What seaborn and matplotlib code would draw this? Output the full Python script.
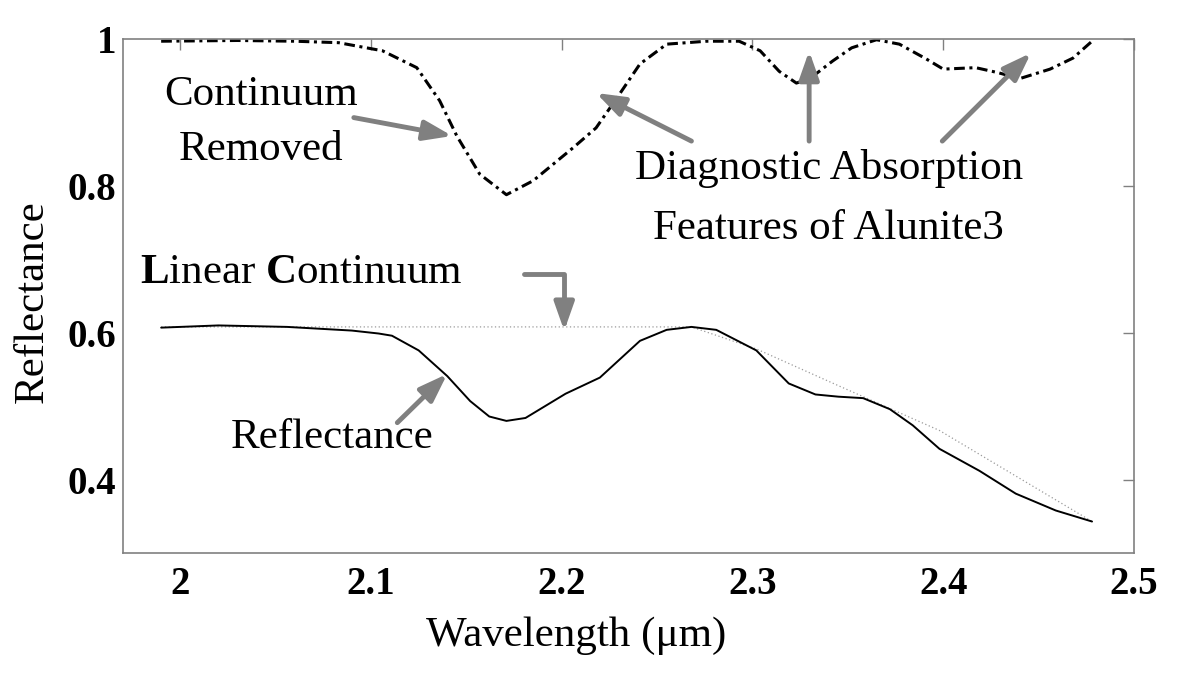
import matplotlib
matplotlib.use("Agg")
import matplotlib.pyplot as plt
import seaborn as sns
import pandas as pd

# reflectance spectrum of alunite
wl_refl = [1.99, 2.02, 2.056, 2.09, 2.104, 2.111, 2.125, 2.14, 2.152, 2.162, 2.171,
           2.181, 2.202, 2.22, 2.241, 2.255, 2.268, 2.281, 2.302, 2.319, 2.333,
           2.345, 2.358, 2.372, 2.384, 2.398, 2.419, 2.438, 2.459, 2.478]
refl = [0.607, 0.610, 0.608, 0.603, 0.599, 0.596, 0.576, 0.541, 0.507, 0.486, 0.480,
        0.484, 0.517, 0.539, 0.589, 0.604, 0.608, 0.604, 0.576, 0.531, 0.516,
        0.513, 0.511, 0.496, 0.474, 0.442, 0.412, 0.381, 0.358, 0.343]

# continuum removed spectrum
wl_cr = [1.99, 2.03, 2.06, 2.083, 2.106, 2.124, 2.136, 2.145, 2.157, 2.171, 2.185,
         2.206, 2.218, 2.229, 2.241, 2.255, 2.276, 2.293, 2.304, 2.314, 2.323, 2.33,
         2.342, 2.352, 2.365, 2.377, 2.391, 2.4, 2.417, 2.429, 2.44, 2.456, 2.468, 2.478]
cr = [0.997, 0.998, 0.997, 0.995, 0.984, 0.961, 0.916, 0.868, 0.816, 0.788, 0.807,
      0.852, 0.879, 0.920, 0.966, 0.993, 0.997, 0.997, 0.984, 0.956, 0.940, 0.946,
      0.970, 0.988, 0.999, 0.993, 0.973, 0.959, 0.961, 0.954, 0.946, 0.959, 0.974, 0.997]

# linear continuum (dotted)
wl_cont = [1.99, 2.268, 2.302, 2.345, 2.398, 2.478]
cont = [0.608, 0.608, 0.578, 0.528, 0.467, 0.343]

xticks = [2, 2.1, 2.2, 2.3, 2.4, 2.5]
xtick_labels = ["2", "2.1", "2.2", "2.3", "2.4", "2.5"]
yticks = [0.4, 0.6, 0.8, 1.0]
ytick_labels = ["0.4", "0.6", "0.8", "1"]

sns.set_theme(style="white")
plt.rcParams['font.family'] = ['Liberation Serif', 'DejaVu Serif']
plt.rcParams['mathtext.fontset'] = 'custom'
plt.rcParams['mathtext.rm'] = 'Liberation Serif'
plt.rcParams['mathtext.bf'] = 'Liberation Serif:bold'
plt.rcParams['text.color'] = 'black'
plt.rcParams['axes.labelcolor'] = 'black'

GREY = '#808080'

fig = plt.figure(figsize=(12, 6.82), dpi=100)
ax = fig.add_axes([0.1025, 0.189, 0.8425, 0.7538])

df_refl = pd.DataFrame({'wl': wl_refl, 'r': refl})
df_cr = pd.DataFrame({'wl': wl_cr, 'r': cr})
df_cont = pd.DataFrame({'wl': wl_cont, 'r': cont})

sns.lineplot(data=df_cont, x='wl', y='r', ax=ax, color='#9a9a9a', lw=0.9,
             linestyle=(0, (1, 2)), sort=False, estimator=None)
sns.lineplot(data=df_refl, x='wl', y='r', ax=ax, color='black', lw=1.4,
             sort=False, estimator=None)
sns.lineplot(data=df_cr, x='wl', y='r', ax=ax, color='black', lw=2.2,
             linestyle=(0, (3.5, 1.5, 1, 1.5)), sort=False, estimator=None)

ax.set_xlim(1.97, 2.5)
ax.set_ylim(0.3, 1.0)
ax.set_xticks(xticks)
ax.set_xticklabels(xtick_labels, fontsize=28, fontweight='bold')
ax.set_yticks(yticks)
ax.set_yticklabels(ytick_labels, fontsize=28, fontweight='bold')
ax.tick_params(axis='both', direction='in', length=8, width=1, color=GREY,
               top=True, right=True, labelcolor='black')
ax.tick_params(axis='x', pad=9)
ax.tick_params(axis='y', pad=5)
for s in ax.spines.values():
    s.set_color(GREY)
    s.set_linewidth(1.2)

ax.set_xlabel('Wavelength (μm)', fontsize=31, va='center')
ax.set_ylabel('Reflectance', fontsize=31, va='center', ha='center',
              rotation_mode='default')
ax.xaxis.set_label_coords(0.448, -0.16)
ax.yaxis.set_label_coords(-0.09, 0.49)

arrow = dict(arrowstyle='-|>,head_length=0.85,head_width=0.3', color=GREY, lw=3.5,
             mutation_scale=20, shrinkA=0, shrinkB=0)

# Continuum Removed
ax.text(2.0425, 0.8864, 'Continuum\nRemoved', fontsize=31, ha='center', va='center',
        linespacing=1.55)
ax.annotate('', xy=(2.1426, 0.868), xytext=(2.091, 0.893), arrowprops=arrow)

# Diagnostic absorption features
ax.text(2.340, 0.783, 'Diagnostic Absorption\nFeatures of Alunite3', fontsize=31,
        ha='center', va='center', linespacing=1.75)
ax.annotate('', xy=(2.218, 0.9265), xytext=(2.268, 0.861), arrowprops=arrow)
ax.annotate('', xy=(2.3297, 0.9837), xytext=(2.3297, 0.861), arrowprops=arrow)
ax.annotate('', xy=(2.446, 0.981), xytext=(2.3995, 0.861), arrowprops=arrow)

# Reflectance
ax.text(2.0797, 0.457, 'Reflectance', fontsize=31, ha='center', va='center')
ax.annotate('', xy=(2.140, 0.544), xytext=(2.1138, 0.4776), arrowprops=arrow)

# Linear Continuum
ax.text(2.0634, 0.6816, r'$\mathbf{L}$inear $\mathbf{C}$ontinuum', fontsize=31,
        ha='center', va='center')
bent = dict(arrow)
bent['connectionstyle'] = 'angle,angleA=0,angleB=90,rad=0'
ax.annotate('', xy=(2.2013, 0.6027), xytext=(2.1803, 0.680), arrowprops=bent)

fig.savefig('out.png', dpi=100)
